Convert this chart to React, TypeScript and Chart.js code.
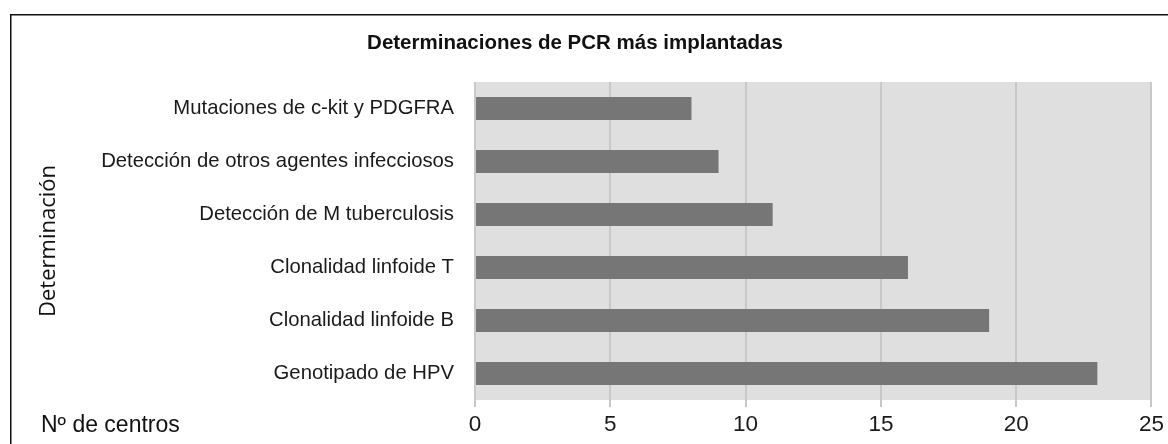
import React, { useEffect, useRef } from "react";
import { Chart, registerables } from "chart.js";

Chart.register(...registerables);

const categories = [
  "Mutaciones de c-kit y PDGFRA",
  "Detección de otros agentes infecciosos",
  "Detección de M tuberculosis",
  "Clonalidad linfoide T",
  "Clonalidad linfoide B",
  "Genotipado de HPV",
];
const centros = [8, 9, 11, 16, 19, 23];
const chartTitle = "Determinaciones de PCR más implantadas";
const yAxisTitle = "Determinación";
const xAxisTitle = "Nº de centros";
const xMin = 0;
const xMax = 25;
const xStep = 5;

const decorPlugin = {
  id: "decor",
  beforeDraw(chart: any) {
    const { ctx, chartArea } = chart;
    ctx.save();
    ctx.fillStyle = "#ffffff";
    ctx.fillRect(0, 0, chart.width, chart.height);
    // outer frame
    ctx.strokeStyle = "#111111";
    ctx.lineWidth = 1.5;
    ctx.beginPath();
    ctx.moveTo(10.75, chart.height + 2);
    ctx.lineTo(10.75, 14.75);
    ctx.lineTo(chart.width + 2, 14.75);
    ctx.stroke();
    // plot background
    ctx.fillStyle = "#dfdfdf";
    ctx.fillRect(chartArea.left, chartArea.top, chartArea.right - chartArea.left, chartArea.bottom - chartArea.top);
    ctx.restore();
  },
  afterDraw(chart: any) {
    const { ctx, chartArea } = chart;
    ctx.save();
    ctx.fillStyle = "#111111";
    ctx.textAlign = "center";
    ctx.textBaseline = "alphabetic";
    ctx.font = "bold 20.5px 'Liberation Sans', Arial, sans-serif";
    ctx.fillText(chartTitle, 575, 49);

    ctx.font = "23px 'Liberation Sans', Arial, sans-serif";
    ctx.textAlign = "left";
    ctx.fillText(xAxisTitle, 41, 431.5);

    ctx.font = "22px 'Open Sans', sans-serif";
    ctx.textAlign = "center";
    ctx.translate(55, (chartArea.top + chartArea.bottom) / 2);
    ctx.rotate(-Math.PI / 2);
    ctx.fillText(yAxisTitle, 0, 0);
    ctx.restore();
  },
};

export default function App() {
  const ref = useRef<HTMLCanvasElement | null>(null);
  useEffect(() => {
    document.body.style.margin = "0";
    const canvas = ref.current;
    if (!canvas) return;
    const chart = new Chart(canvas, {
      type: "bar",
      data: {
        labels: categories,
        datasets: [
          {
            data: centros,
            backgroundColor: "#767676",
            borderWidth: 0,
            categoryPercentage: 1,
            barPercentage: 0.434,
          },
        ],
      },
      options: {
        indexAxis: "y",
        responsive: false,
        animation: false,
        devicePixelRatio: 1,
        layout: { padding: { left: 0, right: 13, top: 82, bottom: 0 } },
        plugins: {
          legend: { display: false },
          title: { display: false },
          tooltip: { enabled: false },
        },
        scales: {
          x: {
            min: xMin,
            max: xMax,
            afterFit(scale: any) {
              scale.height = 44;
            },
            ticks: {
              stepSize: xStep,
              color: "#1a1a1a",
              padding: 4,
              font: { family: "'Liberation Sans', Arial, sans-serif", size: 22.5 },
            },
            grid: {
              color: "#c8c8c8",
              lineWidth: 2,
              drawTicks: true,
              tickLength: 7,
            },
            border: { display: false },
          },
          y: {
            afterFit(scale: any) {
              scale.width = 475;
            },
            ticks: {
              color: "#1a1a1a",
              padding: 13,
              font: { family: "'Liberation Sans', Arial, sans-serif", size: 20.3 },
            },
            grid: { display: false },
            border: { display: false },
          },
        },
      },
      plugins: [decorPlugin],
    });
    return () => chart.destroy();
  }, []);
  return (
    <div style={{ position: "fixed", left: 0, top: 0, width: 1168, height: 444 }}>
      <canvas ref={ref} width={1168} height={444} />
    </div>
  );
}
